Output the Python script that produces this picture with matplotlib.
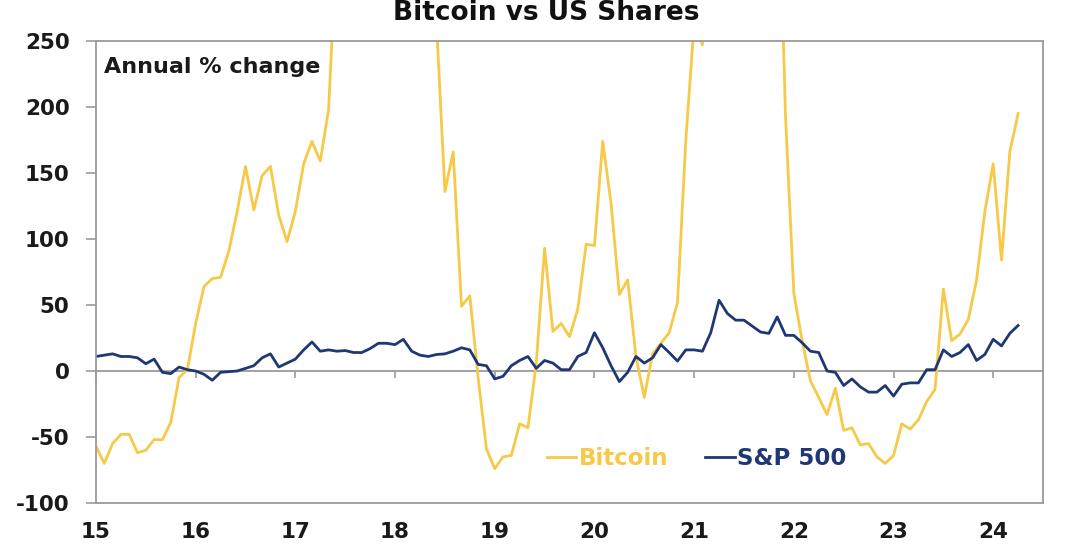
import numpy as np
import matplotlib.pyplot as plt

# annual % change, monthly Jan 2015 - Apr 2024
bitcoin = [
    -57, -70, -55, -48, -48, -62, -60, -52, -52, -39, -5, 1,          # 2015
    36, 64, 70, 71, 91, 121, 155, 122, 148, 155, 118, 98,            # 2016
    121, 157, 174, 159, 198, 330, 400, 720, 600, 815, 1250, 1360,    # 2017
    950, 770, 540, 580, 300, 262, 136, 166, 49, 57, -5, -59,         # 2018
    -74, -65, -64, -40, -43, 6, 93, 30, 36, 26, 47, 96,              # 2019
    95, 174, 127, 58, 69, 11, -20, 13, 21, 29, 52, 175,              # 2020
    263, 247, 420, 800, 560, 290, 280, 260, 300, 300, 420, 193,      # 2021
    59, 23, -7.5, -20, -33, -13, -45, -43, -56, -55, -65, -70,       # 2022
    -64, -40, -44, -37, -23, -14, 62, 23, 28, 39, 69, 121,           # 2023
    157, 84, 166, 195,                                               # 2024
]
sp500 = [
    11, 12, 13, 11, 11, 10, 5.5, 9, -1, -2, 3, 1,
    0, -2.5, -7, -1, -0.5, 0, 2, 4, 10, 13, 3, 6,
    9, 16, 22, 15, 16, 15, 15.5, 14, 14, 17, 21, 21,
    20, 24, 15, 12, 11, 12.5, 13, 15, 17.6, 16, 5, 4,
    -6, -4, 4, 8, 11, 2, 8, 6, 1, 1, 11, 14,
    29, 17.6, 4, -8, -1, 11, 6, 10, 20, 14, 7.5, 16,
    16, 15, 29, 53.6, 43.6, 38.5, 38.5, 34, 29.5, 28.5, 41, 27,
    27, 21.4, 15, 14, 0, -1, -11, -6, -12, -16, -16, -11,
    -19, -10, -9, -9, 1, 1, 16, 11, 14, 20, 8, 12.6,
    24, 19, 28.5, 34.5,
]
years = 15 + np.arange(len(bitcoin)) / 12
year_ticks = list(range(15, 25))

gold = '#F7C948'
navy = '#1F3874'
grey = '#9A9A9A'

plt.rcParams['font.family'] = 'DejaVu Sans'
plt.rcParams['font.weight'] = 'bold'
plt.rcParams['axes.unicode_minus'] = False

fig = plt.figure(figsize=(10.82, 5.51), dpi=100)
ax = fig.add_axes([0.0887, 0.0871, 0.8753, 0.8385])

ax.plot(years, bitcoin, color=gold, lw=2.0, label='Bitcoin')
ax.plot(years, sp500, color=navy, lw=2.0, label='S&P 500')

ax.set_xlim(15, 24.5)
ax.set_ylim(-100, 250)
ax.set_yticks(range(-100, 251, 50))
ax.set_xticks(year_ticks)
ax.set_xticklabels([str(y) for y in year_ticks])

for s in ax.spines.values():
    s.set_color(grey)
    s.set_linewidth(1.3)
ax.tick_params(axis='y', direction='out', length=7, width=1.2, color=grey,
               pad=12, labelsize=15.5, labelcolor='#1a1a1a')
ax.tick_params(axis='x', length=0, pad=14, labelsize=15.5, labelcolor='#1a1a1a')

# zero line carrying the year ticks
zero = ax.secondary_xaxis(100 / 350)
zero.set_xticks(year_ticks)
zero.set_xticklabels([])
zero.spines['bottom'].set_color(grey)
zero.spines['bottom'].set_linewidth(1.3)
zero.tick_params(direction='out', length=5, width=1.2, color=grey)

ax.text(0.008, 0.965, 'Annual % change', transform=ax.transAxes,
        fontsize=16, fontweight='bold', va='top', ha='left', color='#1a1a1a')

fig.suptitle('Bitcoin vs US Shares', fontsize=19, fontweight='bold',
             y=1.0, va='top', x=0.505, color='#111111')

leg = ax.legend(loc='center left', bbox_to_anchor=(0.454, 0.097), ncol=2,
                frameon=False, handlelength=1.3, handletextpad=0.1,
                columnspacing=1.6, labelcolor='linecolor',
                prop={'weight': 'bold', 'size': 16.5})

fig.savefig('out.png', dpi=100)
